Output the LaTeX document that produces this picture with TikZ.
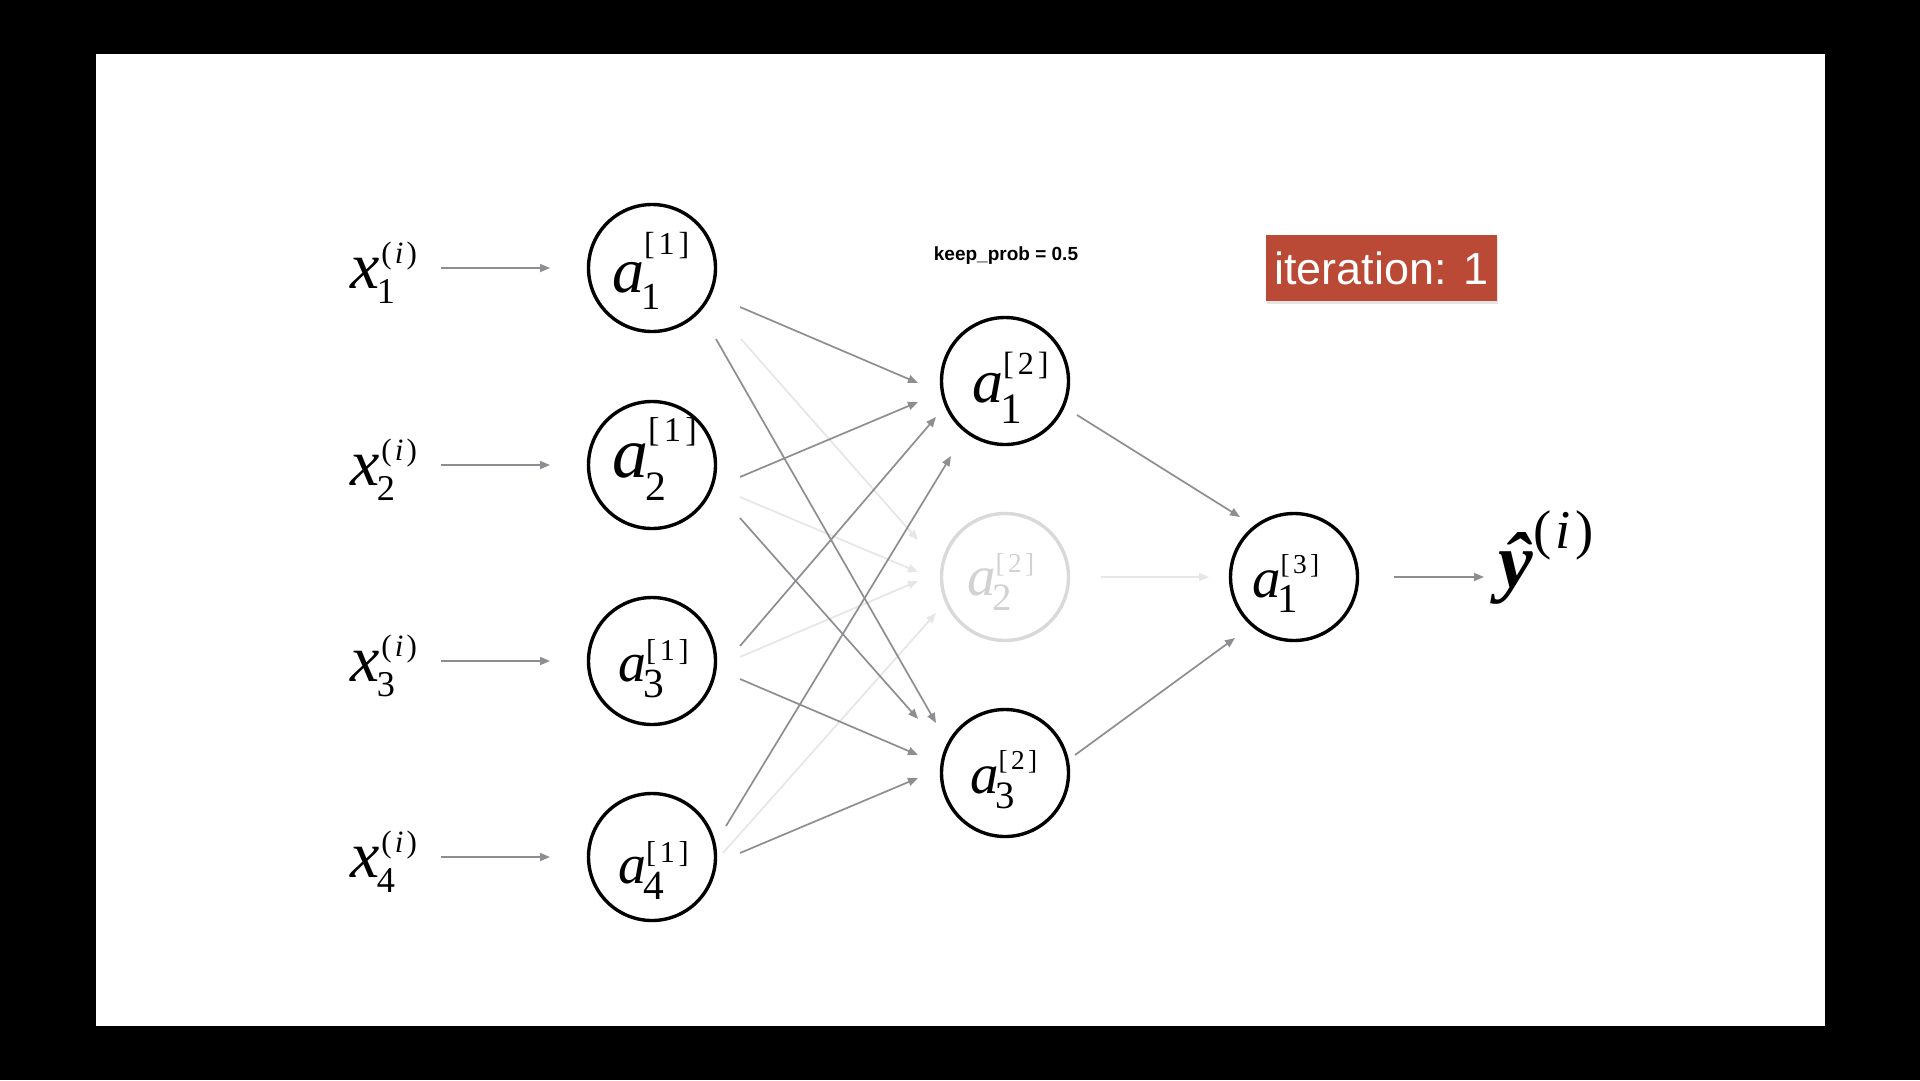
\documentclass[tikz,border=0pt]{standalone}
\usepackage{fontspec}
\setmainfont{Liberation Serif}
\newfontfamily\labelsans{Liberation Sans}
\usetikzlibrary{arrows.meta,calc}
\definecolor{edgegray}{HTML}{8C8E91}
\definecolor{fadeedge}{HTML}{E6E6E6}
\definecolor{fadecirc}{HTML}{D9D9D9}
\definecolor{fadetext}{HTML}{D2D2D2}
\definecolor{iterred}{HTML}{BA4A36}
% #1 base, #2 sup, #3 sub, #4 sup size, #5 sup raise, #6 sub size, #7 sub drop, #8 sub kern (all em of base)
\newcommand\nnsym[8]{#1%
  \setbox0\hbox{\raisebox{#5em}{\fontsize{#4em}{#4em}\selectfont #2}}%
  \setbox2\hbox{\kern#8em\raisebox{-#7em}{\fontsize{#6em}{#6em}\selectfont #3}}%
  \ifdim\wd0>\wd2 \rlap{\box2}\box0\else\rlap{\box0}\box2\fi}
\newcommand\brk[1]{[\kern0.12em#1\kern0.12em]}
\newcommand\pari{\kern0.06em(\kern0.1em\textit{i}\kern0.1em)}
\newcommand\xlab[1]{\nnsym{\textit{x}}{\pari}{#1}{0.47}{0.37}{0.55}{0.23}{-0.04}}
\tikzset{
  neuron/.style={circle, draw=black, line width=3.4pt, minimum size=127pt, inner sep=0pt},
  fadednode/.style={neuron, draw=fadecirc},
  edge/.style={draw=edgegray, line width=1.7pt, -{Triangle[length=10pt,width=8pt]}},
  fedge/.style={edge, draw=fadeedge},
  fs/.style={font=\fontsize{#1}{#1}\selectfont},
  atext/.style={anchor=base west, inner sep=0pt},
}
\begin{document}
\begin{tikzpicture}[x=1pt,y=-1pt]
\useasboundingbox (0,0) rectangle (1920,1080);
\fill[black] (0,0) rectangle (1920,1080);
\fill[white] (95.5,53.5) rectangle (1824.5,1026);

% layer 1
\node[neuron] (a11) at (652,268) {};
\node[neuron] (a12) at (652,465) {};
\node[neuron] (a13) at (652,661) {};
\node[neuron] (a14) at (652,857) {};
% layer 2
\node[neuron] (a21) at (1005,381) {};
\node[fadednode] (a22) at (1005,577) {};
\node[neuron] (a23) at (1005,773) {};
% layer 3
\node[neuron] (a31) at (1294,577) {};

% node texts
\node[atext, fs=64] (t11) at ($(a11)+(-40,24)$) {\nnsym{\textit{a}}{\brk{1}}{1}{0.5}{0.58}{0.6}{0.27}{-0.04}};
\node[atext, fs=72] (t12) at ($(a12)+(-40,12)$) {\nnsym{\textit{a}}{\brk{1}}{2}{0.48}{0.5}{0.58}{0.32}{-0.04}};
\node[atext, fs=56] (t13) at ($(a13)+(-34,20)$) {\nnsym{\textit{a}}{\brk{1}}{3}{0.54}{0.36}{0.74}{0.29}{-0.05}};
\node[atext, fs=56] (t14) at ($(a14)+(-34,26)$) {\nnsym{\textit{a}}{\brk{1}}{4}{0.54}{0.36}{0.74}{0.29}{-0.05}};
\node[atext, fs=62] (t21) at ($(a21)+(-33,21)$) {\nnsym{\textit{a}}{\brk{2}}{1}{0.52}{0.44}{0.7}{0.34}{-0.05}};
\node[atext, fs=57, text=fadetext] (t22) at ($(a22)+(-38,18)$) {\nnsym{\textit{a}}{\brk{2}}{2}{0.48}{0.39}{0.68}{0.28}{-0.05}};
\node[atext, fs=57] (t23) at ($(a23)+(-35,20)$) {\nnsym{\textit{a}}{\brk{2}}{3}{0.48}{0.42}{0.68}{0.28}{-0.05}};
\node[atext, fs=57] (t31) at ($(a31)+(-42,20)$) {\nnsym{\textit{a}}{\brk{3}}{1}{0.48}{0.42}{0.72}{0.28}{-0.05}};

% inputs
\node[atext, fs=66] (x1) at (350,288) {\xlab{1}};
\node[atext, fs=66] (x2) at (350,485) {\xlab{2}};
\node[atext, fs=66] (x3) at (350,681) {\xlab{3}};
\node[atext, fs=66] (x4) at (350,877) {\xlab{4}};
\foreach \k in {1,2,3,4}{
  \draw[edge] ($(a1\k)+(-211,0)$) -- ($(a1\k)+(-102,0)$);
}

% output
\node[atext, fs=78] (yhat) at (1498,587) {\textbf{\textit{ŷ}}\raisebox{0.5em}{\fontsize{0.7em}{0.7em}\selectfont (\kern0.08em\textit{i}\kern0.08em)}};
\draw[edge] ($(a31)+(100,0)$) -- ($(a31)+(190,0)$);

% faded edges
\draw[fedge] ($(a11)+(89,71)$) -- ($(a22)+(-87,-37)$);
\draw[fedge] ($(a12)+(88,32)$) -- ($(a22)+(-87,-5)$);
\draw[fedge] ($(a13)+(88,-4)$) -- ($(a22)+(-87,4)$);
\draw[fedge] ($(a14)+(71,-4)$) -- ($(a22)+(-69,36)$);
\draw[fedge] ($(a22)+(96,0)$) -- ($(a31)+(-85,0)$);

% active edges
\draw[edge] ($(a11)+(88,39)$) -- ($(a21)+(-87,2)$);
\draw[edge] ($(a11)+(64,71)$) -- ($(a23)+(-69,-50)$);
\draw[edge] ($(a12)+(88,12)$) -- ($(a21)+(-87,21)$);
\draw[edge] ($(a12)+(88,53)$) -- ($(a23)+(-87,-54)$);
\draw[edge] ($(a13)+(88,-15)$) -- ($(a21)+(-69,36)$);
\draw[edge] ($(a13)+(88,18)$) -- ($(a23)+(-87,-18)$);
\draw[edge] ($(a14)+(74,-31)$) -- ($(a21)+(-54,75)$);
\draw[edge] ($(a14)+(88,-4)$) -- ($(a23)+(-87,5)$);
\draw[edge] ($(a21)+(72,34)$) -- ($(a31)+(-54,-60)$);
\draw[edge] ($(a23)+(70,-18)$) -- ($(a31)+(-59,61)$);

% texts
\node[anchor=base, inner sep=0pt, font=\labelsans\bfseries\fontsize{19}{19}\selectfont] (kp) at (1006,260) {keep\_prob = 0.5};
\fill[black!10] (1267,237) rectangle (1498,304);
\node[fill=iterred, text=white, minimum width=231pt, minimum height=66pt, inner sep=0pt,
      font=\labelsans\fontsize{45}{45}\selectfont] (iter) at (1381.5,268) {iteration: 1};
\end{tikzpicture}
\end{document}
